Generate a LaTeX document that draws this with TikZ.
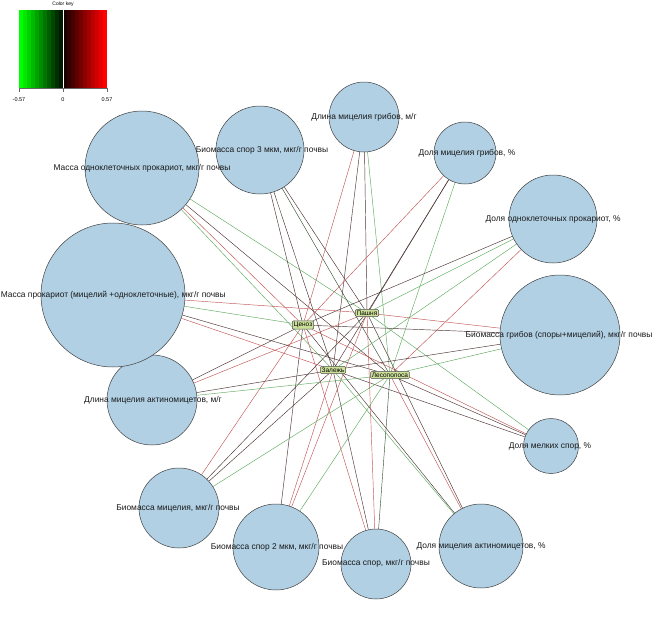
\documentclass[tikz,border=0pt]{standalone}
\usepackage{fontspec}
\setmainfont{Liberation Sans}
\usetikzlibrary{backgrounds}
\definecolor{vblue}{HTML}{B1D0E4}
\definecolor{cbox}{HTML}{CCE09A}
\definecolor{er}{RGB}{195,85,85}
\definecolor{eg}{RGB}{95,170,95}
\definecolor{ed}{RGB}{75,50,50}
\definecolor{edg}{RGB}{55,80,55}
\tikzset{
  vert/.style={circle,draw=black!75,fill=vblue,line width=0.5pt,inner sep=0pt,minimum size=#1},
  lbl/.style={inner sep=0pt,font=\fontsize{8.4}{9}\selectfont,text=black!90},
  cen/.style={rectangle,rounded corners=1pt,draw=black!70,fill=cbox,line width=0.4pt,inner sep=1.3pt,font=\fontsize{6.5}{7}\selectfont},
  edge/.style={line width=0.45pt,draw=#1}
}
\begin{document}
\begin{tikzpicture}[x=1pt,y=-1pt]
\useasboundingbox (0,0) rectangle (656,637);
% colour key
\node[inner sep=0pt,font=\fontsize{5}{6}\selectfont] (keyt) at (63,4) {Color key};
\foreach \i in {0,...,10}{
  \pgfmathsetmacro{\p}{100-\i*9}
  \fill[green!\p!black] (19+\i*4,10) rectangle (23.1+\i*4,88);
  \pgfmathsetmacro{\q}{10+\i*9}
  \fill[red!\q!black] (63+\i*4,10) rectangle (67.1+\i*4,88);
}
\draw[white,line width=0.8pt] (63,10) -- (63,88);
\draw[black!60,line width=0.3pt] (19,88) -- (107,88);
\foreach \x in {19,63,107}{\draw[black!60,line width=0.3pt] (\x,88) -- (\x,92);}
\node[inner sep=0pt,font=\fontsize{5.5}{6}\selectfont] (k1) at (19,100) {-0.57};
\node[inner sep=0pt,font=\fontsize{5.5}{6}\selectfont] (k2) at (63,100) {0};
\node[inner sep=0pt,font=\fontsize{5.5}{6}\selectfont] (k3) at (107,100) {0.57};

% outer vertices
\node[vert=114pt] (v1) at (142,168) {};
\node[vert=88pt] (v2) at (260,150) {};
\node[vert=70pt] (v3) at (364,117) {};
\node[vert=62pt] (v4) at (465,153) {};
\node[vert=88pt] (v5) at (553,219) {};
\node[vert=120pt] (v6) at (560,335) {};
\node[vert=55pt] (v7) at (551,446) {};
\node[vert=84pt] (v8) at (481,546) {};
\node[vert=70pt] (v9) at (376,564) {};
\node[vert=86pt] (v10) at (276,547) {};
\node[vert=80pt] (v11) at (179,508) {};
\node[vert=90pt] (v12) at (152,400) {};
\node[vert=144pt] (v13) at (113,295) {};

% central vertices
\node[cen] (cz) at (303,325) {Ценоз};
\node[cen] (pa) at (367,313) {Пашня};
\node[cen] (za) at (333,370) {Залежь};
\node[cen] (le) at (390,375) {Лесополоса};

\begin{pgfonlayer}{background}
\foreach \v/\a/\b/\c/\d in {
  v1/er/eg/eg/ed, v2/ed/ed/ed/edg, v3/er/ed/ed/eg, v4/er/ed/ed/eg,
  v5/ed/eg/eg/er, v6/ed/er/ed/eg, v7/er/eg/ed/ed, v8/ed/ed/eg/er,
  v9/er/er/ed/edg, v10/ed/er/er/eg, v11/er/ed/ed/eg, v12/ed/er/ed/eg,
  v13/eg/er/er/ed}{
  \draw[edge=\a] (cz) -- (\v);
  \draw[edge=\b] (pa) -- (\v);
  \draw[edge=\c] (za) -- (\v);
  \draw[edge=\d] (le) -- (\v);
}
\end{pgfonlayer}

% labels
\node[lbl] (t1) at (142,168) {Масса одноклеточных прокариот, мкг/г почвы};
\node[lbl] (t2) at (262,150) {Биомасса спор 3 мкм, мкг/г почвы};
\node[lbl] (t3) at (364,117) {Длина мицелия грибов, м/г};
\node[lbl] (t4) at (467,153) {Доля мицелия грибов, \%};
\node[lbl] (t5) at (553,219) {Доля одноклеточных прокариот, \%};
\node[lbl] (t6) at (559,335) {Биомасса грибов (споры+мицелий), мкг/г почвы};
\node[lbl] (t7) at (550,446) {Доля мелких спор, \%};
\node[lbl] (t8) at (481,546) {Доля мицелия актиномицетов, \%};
\node[lbl] (t9) at (376,563) {Биомасса спор, мкг/г почвы};
\node[lbl] (t10) at (277,547) {Биомасса спор 2 мкм, мкг/г почвы};
\node[lbl] (t11) at (178,508) {Биомасса мицелия, мкг/г почвы};
\node[lbl] (t12) at (153,400) {Длина мицелия актиномицетов, м/г};
\node[lbl,anchor=west] (t13) at (0.6,295) {Масса прокариот (мицелий +одноклеточные), мкг/г почвы};
\end{tikzpicture}
\end{document}
